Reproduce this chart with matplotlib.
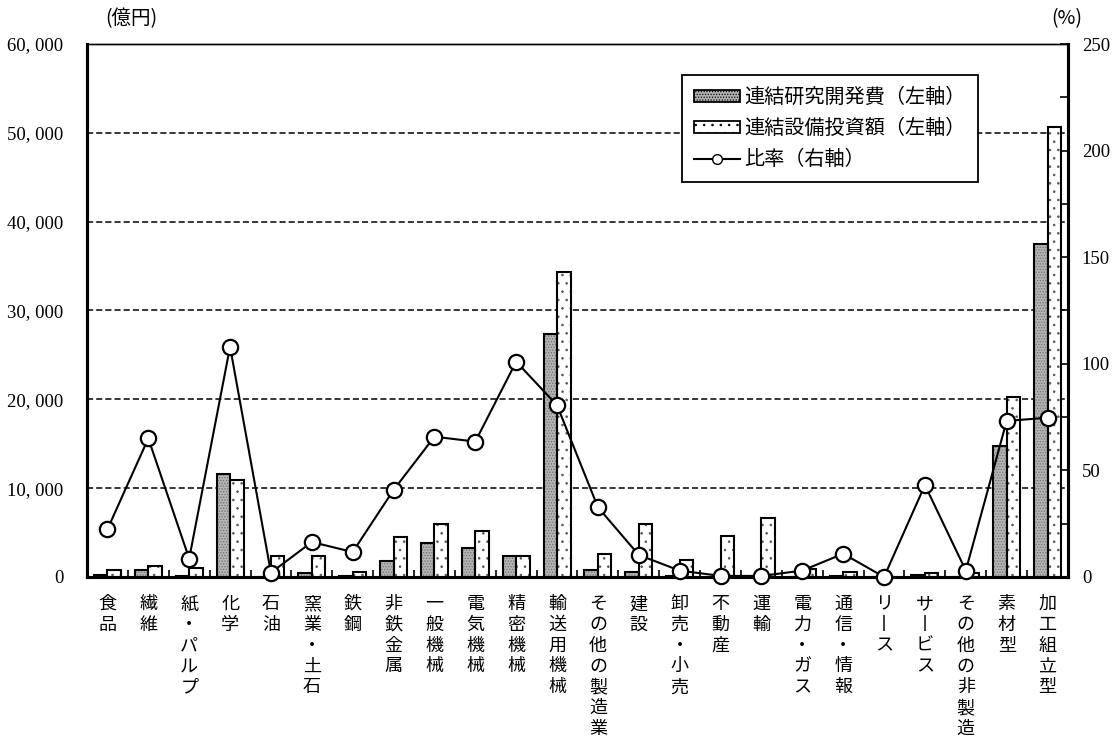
import matplotlib
matplotlib.use("Agg")
import matplotlib.pyplot as plt
from matplotlib.patches import Patch
from matplotlib.lines import Line2D
from matplotlib.ticker import FuncFormatter, MultipleLocator
import numpy as np

# Industry categories (vertical labels under the axis)
categories = ['食品', '繊維', '紙・パルプ', '化学', '石油', '窯業・土石', '鉄鋼',
              '非鉄金属', '一般機械', '電気機械', '精密機械', '輸送用機械',
              'その他の製造業', '建設', '卸売・小売', '不動産', '運輸',
              '電力・ガス', '通信・情報', 'リース', 'サービス', 'その他の非製造',
              '素材型', '加工組立型']

# Consolidated R&D expenditure (100 million yen)
rd_spending = [170, 800, 90, 11600, 50, 400, 70, 1800, 3850, 3300, 2350, 27300,
               830, 600, 60, 20, 30, 30, 60, 0, 170, 15, 14700, 37500]

# Consolidated capital investment (100 million yen)
capex = [750, 1200, 1000, 10900, 2350, 2400, 600, 4450, 5950, 5200, 2350, 34300,
         2550, 5950, 1900, 4650, 6600, 900, 550, 40, 400, 400, 20300, 50700]

# Ratio R&D / capital investment (%)
ratio = [22.4, 65, 8.6, 108, 2, 16.4, 11.7, 40.8, 65.8, 63.5, 101, 80.5,
         32.7, 10.3, 3, 0.5, 0.5, 3, 10.9, 0, 43.1, 3, 73.2, 74.7]

left_ticks = [0, 10000, 20000, 30000, 40000, 50000, 60000]
right_ticks = [0, 50, 100, 150, 200, 250]

JP = ['Noto Sans CJK JP', 'DejaVu Sans']
NUM = 'Liberation Serif'
plt.rcParams['hatch.linewidth'] = 0.6

fig = plt.figure(figsize=(11.14, 7.42), dpi=100)
ax = fig.add_axes([0.0781, 0.2224, 0.8806, 0.7183])
ax2 = ax.twinx()

x = np.arange(len(categories))
w = 0.33

# R&D bars: grey stipple fill, then black outline
ax.bar(x - w / 2, rd_spending, width=w, color='#b4b4b4', edgecolor='#707070',
       hatch='......', linewidth=0, zorder=3)
ax.bar(x - w / 2, rd_spending, width=w, fill=False, edgecolor='black',
       linewidth=1.5, zorder=4)
# Capital investment bars: white with sparse dots
ax.bar(x + w / 2, capex, width=w, color='white', edgecolor='#555555',
       hatch='..', linewidth=0, zorder=3)
ax.bar(x + w / 2, capex, width=w, fill=False, edgecolor='black',
       linewidth=1.5, zorder=4)

ax.set_xlim(-0.5, len(categories) - 0.5)
ax.set_ylim(0, 60000)
ax.set_yticks(left_ticks)
ax.yaxis.set_major_formatter(FuncFormatter(lambda v, p: f"{int(v):,}".replace(',', ', ')))
for t in ax.get_yticklabels():
    t.set_fontfamily(NUM)
    t.set_fontsize(13.5)
ax.tick_params(axis='y', direction='in', length=0, pad=17)
for yv in left_ticks[1:]:
    ax.axhline(yv, color='black', linestyle=(0, (4, 2)), linewidth=1.1, zorder=1)

# category separators on the bottom axis
ax.set_xticks([])
ax.set_xticks(np.arange(0.5, len(categories) - 0.5, 1), minor=True)
ax.tick_params(axis='x', which='minor', direction='in', length=5, width=1.2,
               labelbottom=False)

for s in ['left', 'right', 'bottom']:
    ax.spines[s].set_linewidth(2.2)
ax.spines['top'].set_linewidth(1.0)

# ratio line on the right axis
ax2.plot(x, ratio, color='black', linewidth=1.5, marker='o', markersize=11,
         markerfacecolor='white', markeredgecolor='black', markeredgewidth=1.6,
         zorder=5, clip_on=False)
ax2.set_ylim(0, 250)
ax2.set_yticks(right_ticks)
ax2.yaxis.set_minor_locator(MultipleLocator(25))
ax2.tick_params(axis='y', which='major', direction='in', length=6, width=1.2, pad=10)
ax2.tick_params(axis='y', which='minor', direction='in', length=6, width=1.2)
for t in ax2.get_yticklabels():
    t.set_fontfamily(NUM)
    t.set_fontsize(13.5)
for s in ['left', 'right', 'bottom']:
    ax2.spines[s].set_linewidth(2.2)
ax2.spines['top'].set_linewidth(1.0)
ax.set_zorder(ax2.get_zorder() - 1)
ax.patch.set_visible(False)
ax2.patch.set_visible(False)

# vertical category labels, one character per line
for i, name in enumerate(categories):
    chars = name.replace('ー', '丨')
    for k, ch in enumerate(chars):
        ax.annotate(ch, xy=(i, 0), xycoords=('data', 'axes fraction'),
                    xytext=(0, -27 - k * 20.8), textcoords='offset pixels',
                    ha='center', va='center', fontsize=13, family=JP)

# unit labels
fig.text(0.1175, 0.975, '(億円)', ha='center', va='center', fontsize=14, family=JP)
fig.text(0.9575, 0.975, '(%)', ha='center', va='center', fontsize=14, family=JP)

# legend
handles = [
    Patch(facecolor='#b4b4b4', edgecolor='black', hatch='......', linewidth=1.3),
    Patch(facecolor='white', edgecolor='black', hatch='..', linewidth=1.3),
    Line2D([0], [0], color='black', linewidth=1.5, marker='o', markersize=7,
           markerfacecolor='white', markeredgecolor='black'),
]
labels = ['連結研究開発費（左軸）', '連結設備投資額（左軸）', '比率（右軸）']
leg = ax2.legend(handles, labels, loc='upper left', bbox_to_anchor=(0.6065, 0.942),
                 prop={'family': JP, 'size': 14.5}, frameon=True, fancybox=False,
                 edgecolor='black', framealpha=1, handlelength=2.3,
                 handleheight=0.55, handletextpad=0.2, labelspacing=0.5,
                 borderpad=0.6, borderaxespad=0)
leg.get_frame().set_linewidth(1.3)
leg.set_zorder(10)

fig.savefig('out.png', dpi=100)
